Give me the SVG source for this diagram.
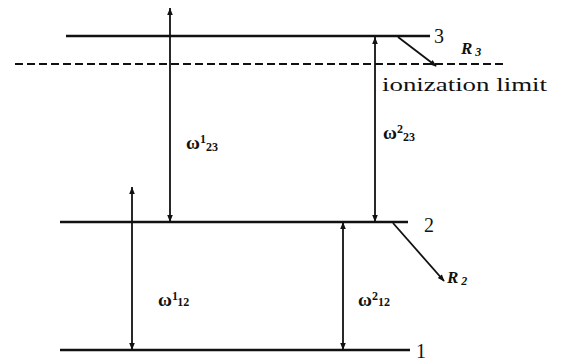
<svg xmlns="http://www.w3.org/2000/svg" width="568" height="361" viewBox="0 0 568 361">
<style>
.lvl{stroke:#111;stroke-width:2.4;fill:none}
.dash{stroke:#111;stroke-width:2;stroke-dasharray:8,4;fill:none}
.arr{stroke:#111;stroke-width:1.8;fill:none}
.t{font-family:"Liberation Serif",serif;fill:#111}
.lab{font-family:"Liberation Serif",serif;font-size:19px;font-weight:bold;fill:#111}
.sm{font-size:12px}
.r{font-family:"Liberation Serif",serif;font-style:italic;font-weight:bold;font-size:17px;fill:#111}
</style>
<defs>
<marker id="ah" viewBox="0 0 10 10" refX="9" refY="5" markerWidth="12" markerHeight="7" markerUnits="userSpaceOnUse" orient="auto">
<path d="M0,1 L10,5 L0,9 Z" fill="#111"/>
</marker>
<marker id="ahs" viewBox="0 0 10 10" refX="10" refY="5" markerWidth="12" markerHeight="7" markerUnits="userSpaceOnUse" orient="auto-start-reverse">
<path d="M0,1 L10,5 L0,9 Z" fill="#111"/>
</marker>
</defs>
<g id="level3">
<line class="lvl" x1="66" y1="36" x2="430" y2="36"/>
<text class="t" x="434" y="43" font-size="20">3</text>
</g>
<g id="ionization">
<line class="dash" x1="15" y1="64" x2="505" y2="64"/>
<text class="t" x="382" y="91" font-size="19" textLength="165" lengthAdjust="spacingAndGlyphs">ionization limit</text>
</g>
<g id="level2">
<line class="lvl" x1="60" y1="222" x2="408" y2="222"/>
<text class="t" x="424" y="232" font-size="20">2</text>
</g>
<g id="level1">
<line class="lvl" x1="60" y1="350" x2="410" y2="350"/>
<text class="t" x="416" y="358" font-size="20">1</text>
</g>
<g id="R3">
<text class="r" x="461" y="54">R<tspan class="sm" dx="3" dy="2">3</tspan></text>
</g>
<g id="R2">
<text class="r" x="447" y="283">R<tspan class="sm" dx="3" dy="2">2</tspan></text>
</g>
<g id="connectors">
<line class="arr" x1="398" y1="37" x2="436" y2="66" marker-end="url(#ah)"/>
<line class="arr" x1="393" y1="223" x2="444" y2="281" marker-end="url(#ah)"/>
<line class="arr" x1="170" y1="222" x2="170" y2="8" marker-start="url(#ahs)" marker-end="url(#ahs)"/>
<line class="arr" x1="375" y1="37" x2="375" y2="222" marker-start="url(#ahs)" marker-end="url(#ahs)"/>
<line class="arr" x1="132" y1="187" x2="132" y2="350" marker-start="url(#ahs)" marker-end="url(#ahs)"/>
<line class="arr" x1="343" y1="222" x2="343" y2="350" marker-start="url(#ahs)" marker-end="url(#ahs)"/>
</g>
<g id="labels">
<text class="lab" x="186" y="149">ω<tspan class="sm" dy="-6">1</tspan><tspan class="sm" dy="8">23</tspan></text>
<text class="lab" x="383" y="139">ω<tspan class="sm" dy="-6">2</tspan><tspan class="sm" dy="8">23</tspan></text>
<text class="lab" x="158" y="306">ω<tspan class="sm" dy="-6">1</tspan><tspan class="sm" dy="6">12</tspan></text>
<text class="lab" x="358" y="306">ω<tspan class="sm" dy="-6">2</tspan><tspan class="sm" dy="6">12</tspan></text>
</g>
</svg>
